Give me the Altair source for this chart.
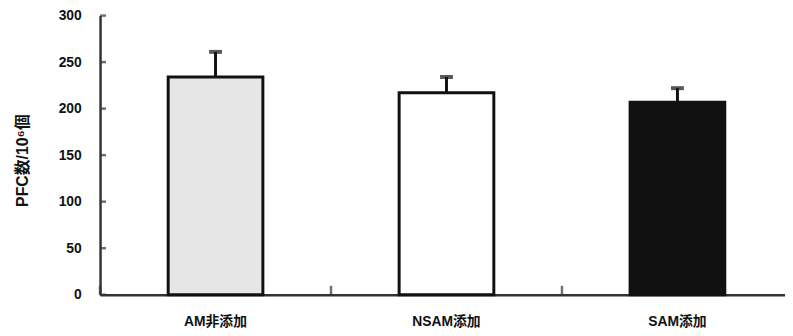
import altair as alt
import pandas as pd

categories = ["AM非添加", "NSAM添加", "SAM添加"]
means = [234, 217, 207]
errors = [27, 17, 15]
fills = ["#e6e6e6", "#ffffff", "#111111"]
y_ticks = [0, 50, 100, 150, 200, 250, 300]

df = pd.DataFrame({
    "cat": categories,
    "mean": means,
    "upper": [m + e for m, e in zip(means, errors)],
    "fill": fills,
})
ticks_df = pd.DataFrame({"v": y_ticks})

FONT = "Liberation Sans, Noto Sans CJK JP"
H = 282
W = 700

x_scale = alt.Scale(domain=categories, paddingInner=0, paddingOuter=0)
y_scale = alt.Scale(domain=[0, 300], nice=False)

x_enc = alt.X(
    "cat:N",
    sort=categories,
    scale=x_scale,
    axis=alt.Axis(
        title=None,
        labelAngle=0,
        labelAlign="center",
        labelBaseline="top",
        labelPadding=20,
        labelFont=FONT,
        labelFontSize=14,
        labelFontWeight="bold",
        labelColor="#111",
        ticks=False,
        domainColor="#333",
        domainWidth=2.5,
    ),
)

y_axis = alt.Axis(
    values=y_ticks,
    title="PFC数/10⁶個",
    titleFont=FONT,
    titleFontSize=16,
    titleFontWeight="bold",
    titleColor="#111",
    titlePadding=28,
    titleY=146,
    labelFont=FONT,
    labelFontSize=14,
    labelFontWeight="bold",
    labelColor="#111",
    labelPadding=19,
    ticks=False,
    domainColor="#333",
    domainWidth=2.5,
    grid=False,
)

bars = alt.Chart(df).mark_bar(
    width=alt.RelativeBandSize(0.41), stroke="#111", strokeWidth=3
).encode(
    x=x_enc,
    y=alt.Y("mean:Q", scale=y_scale, axis=y_axis),
    fill=alt.Fill("fill:N", scale=None),
)

rules = alt.Chart(df).mark_rule(color="#111", strokeWidth=3).encode(
    x=alt.X("cat:N", sort=categories),
    y="mean:Q",
    y2="upper:Q",
)

caps = alt.Chart(df).mark_tick(color="#111", thickness=4, size=13).encode(
    x=alt.X("cat:N", sort=categories),
    y="upper:Q",
)

# inward ticks on the y axis
y_tick_marks = alt.Chart(ticks_df).mark_tick(
    orient="horizontal", color="#333", thickness=2.5, size=6
).encode(
    y=alt.Y("v:Q"),
    x=alt.value(3),
)

# inward ticks on the x axis, at the band boundaries
x_tick_marks = alt.Chart(df).mark_tick(
    orient="vertical", color="#333", thickness=2.5, size=9
).encode(
    x=alt.X("cat:N", sort=categories, bandPosition=0),
    y=alt.value(H - 4.5),
)

chart = (
    alt.layer(rules, bars, caps, y_tick_marks, x_tick_marks)
    .properties(
        width=W,
        height=H,
        autosize=alt.AutoSizeParams(type="none"),
        padding={"left": 93, "top": 6, "right": -8, "bottom": 36},
        background="white",
    )
    .configure_view(stroke=None)
)

chart.save("out.html", embed_options={"renderer": "svg", "actions": False})
